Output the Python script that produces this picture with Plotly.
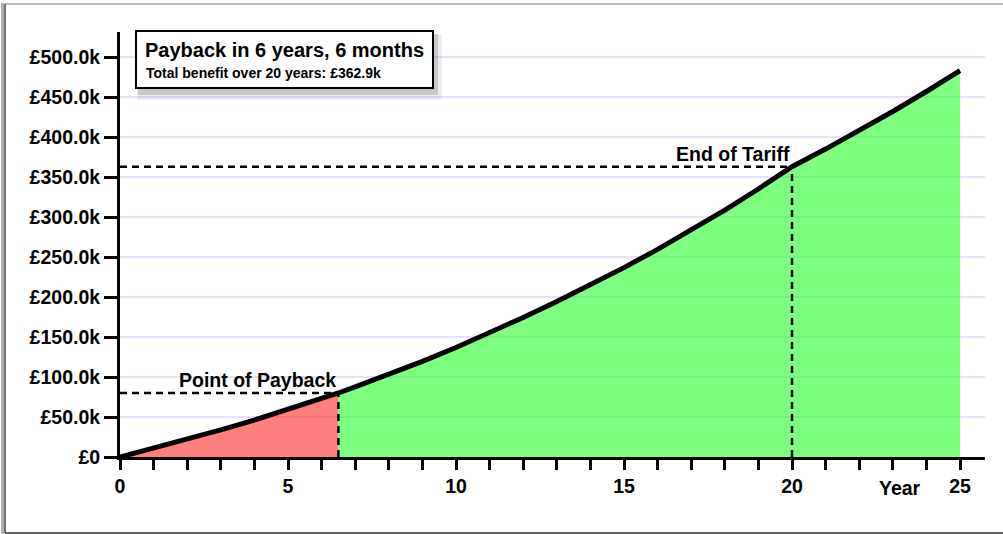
import plotly.graph_objects as go

# ---- data (values in £ thousands) ----
years = [0, 1, 2, 3, 4, 5, 6, 6.5, 7, 8, 9, 10, 11, 12, 13, 14, 15, 16, 17, 18, 19, 20, 21, 22, 23, 24, 25]
cumulative_k = [0, 10.8, 22.0, 33.8, 46.2, 59.3, 73.0, 80.0, 87.6, 103.0, 119.5, 136.9, 155.2, 174.4,
                194.3, 215.0, 236.7, 259.5, 283.5, 308.6, 335.0, 362.9, 384.9, 407.9, 431.9, 456.9, 482.9]
payback_year = 6.5
payback_value = 80.0
tariff_end_year = 20
tariff_value = 362.9

y_tick_vals = [0, 50, 100, 150, 200, 250, 300, 350, 400, 450, 500]
y_tick_text = ["£0", "£50.0k", "£100.0k", "£150.0k", "£200.0k", "£250.0k", "£300.0k",
               "£350.0k", "£400.0k", "£450.0k", "£500.0k"]
x_tick_vals = [0, 5, 10, 15, 20, 25]
x_tick_text = ["0", "5", "10", "15", "20", "25"]

title_text = "Payback in 6 years, 6 months"
subtitle_text = "Total benefit over 20 years: £362.9k"

FONT = "Liberation Sans, Arial, Helvetica, sans-serif"

# ---- geometry ----
W, H = 1003, 534
ML, MR, MT, MB = 120, 18, 32, 77
PW, PH = W - ML - MR, H - MT - MB


def px(x):
    return (x - ML) / PW


def py(y):
    return (H - MB - y) / PH


red_x = [x for x in years if x <= payback_year]
red_y = [v for x, v in zip(years, cumulative_k) if x <= payback_year]
green_x = [x for x in years if x >= payback_year]
green_y = [v for x, v in zip(years, cumulative_k) if x >= payback_year]

fig = go.Figure()
fig.add_trace(go.Scatter(x=red_x, y=red_y, mode="lines", line=dict(width=0),
                         fill="tozeroy", fillcolor="rgba(255,0,0,0.5)", hoverinfo="skip",
                         showlegend=False))
fig.add_trace(go.Scatter(x=green_x, y=green_y, mode="lines", line=dict(width=0),
                         fill="tozeroy", fillcolor="rgba(0,255,0,0.5)", hoverinfo="skip",
                         showlegend=False))

dash = "7px,5px"
dl = dict(color="black", width=2.5, dash=dash)
shapes = [
    dict(type="line", xref="x", yref="y", x0=0, x1=payback_year, y0=payback_value, y1=payback_value, line=dl),
    dict(type="line", xref="x", yref="y", x0=payback_year, x1=payback_year, y0=0, y1=payback_value, line=dl),
    dict(type="line", xref="x", yref="y", x0=0, x1=tariff_end_year, y0=tariff_value, y1=tariff_value, line=dl),
    dict(type="line", xref="x", yref="y", x0=tariff_end_year, x1=tariff_end_year, y0=0, y1=tariff_value, line=dl),
]
fig.add_trace(go.Scatter(x=years, y=cumulative_k, mode="lines",
                         line=dict(color="black", width=5), hoverinfo="skip", showlegend=False,
                         cliponaxis=False))

# outer frame (left, top, bottom)
shapes += [
    dict(type="line", xref="paper", yref="paper", x0=px(2.5), x1=px(2.5), y0=py(3), y1=py(534),
         line=dict(color="#b0b0b0", width=3), layer="above"),
    dict(type="line", xref="paper", yref="paper", x0=px(5), x1=px(5), y0=py(533), y1=py(4),
         line=dict(color="#444444", width=1.5), layer="above"),
    dict(type="line", xref="paper", yref="paper", x0=px(5), x1=px(1003), y0=py(4), y1=py(4),
         line=dict(color="#777777", width=1.2), layer="above"),
    dict(type="line", xref="paper", yref="paper", x0=px(5), x1=px(1003), y0=py(533), y1=py(533),
         line=dict(color="#333333", width=1.5), layer="above"),
]
# annotation box with shadow
bx0, bx1, by0, by1 = 136, 433, 31, 88
shapes += [
    dict(type="rect", xref="paper", yref="paper", x0=px(bx0 + 1), x1=px(bx1 + 9), y0=py(by1 + 12), y1=py(by0 + 4),
         fillcolor="rgba(0,0,0,0.07)", line=dict(width=0), layer="above"),
    dict(type="rect", xref="paper", yref="paper", x0=px(bx0 + 2), x1=px(bx1 + 5), y0=py(by1 + 7), y1=py(by0 + 3),
         fillcolor="rgba(0,0,0,0.15)", line=dict(width=0), layer="above"),
    dict(type="rect", xref="paper", yref="paper", x0=px(bx0), x1=px(bx1), y0=py(by1), y1=py(by0),
         fillcolor="white", line=dict(color="black", width=2), layer="above"),
]

annotations = [
    dict(xref="paper", yref="paper", x=px(143), y=py(50), text=title_text, showarrow=False,
         xanchor="left", yanchor="middle", font=dict(family=FONT, size=20, color="black", weight="bold")),
    dict(xref="paper", yref="paper", x=px(144), y=py(72.5), text=subtitle_text, showarrow=False,
         xanchor="left", yanchor="middle", font=dict(family=FONT, size=14, color="black", weight="bold")),
    dict(xref="x", yref="y", x=payback_year, y=payback_value, text="Point of Payback", showarrow=False,
         xanchor="right", yanchor="bottom", xshift=0, yshift=0,
         font=dict(family=FONT, size=19.5, color="black", weight="bold")),
    dict(xref="x", yref="y", x=tariff_end_year, y=tariff_value, text="End of Tariff", showarrow=False,
         xanchor="right", yanchor="bottom", xshift=0, yshift=0,
         font=dict(family=FONT, size=19.5, color="black", weight="bold")),
    dict(xref="x", yref="paper", x=23.2, y=py(488), text="Year", showarrow=False,
         xanchor="center", yanchor="middle",
         font=dict(family=FONT, size=19.5, color="black", weight="bold")),
]

fig.update_layout(
    width=W, height=H,
    margin=dict(l=ML, r=MR, t=MT, b=MB, pad=0),
    paper_bgcolor="white", plot_bgcolor="white",
    shapes=shapes, annotations=annotations,
    showlegend=False,
    xaxis=dict(range=[0, PW / 33.6], tickvals=x_tick_vals, ticktext=x_tick_text,
               showgrid=False, zeroline=False, showline=True, linecolor="black", linewidth=3,
               ticks="outside", ticklen=10, tickwidth=3, tickcolor="black",
               minor=dict(dtick=1, tick0=0, ticks="outside", ticklen=10, tickwidth=3, tickcolor="black",
                          showgrid=False),
               tickfont=dict(family=FONT, size=19.5, color="black", weight="bold"),
               fixedrange=True),
    yaxis=dict(range=[0, PH / 0.8], tickvals=y_tick_vals, ticktext=y_tick_text,
               showgrid=True, gridcolor="#e2e2fb", gridwidth=2, zeroline=False,
               showline=True, linecolor="black", linewidth=3,
               ticks="outside", ticklen=13, tickwidth=3, tickcolor="black",
               tickfont=dict(family=FONT, size=19.5, color="black", weight="bold"),
               fixedrange=True),
)

fig.write_html("out.html", config={"displayModeBar": False})
